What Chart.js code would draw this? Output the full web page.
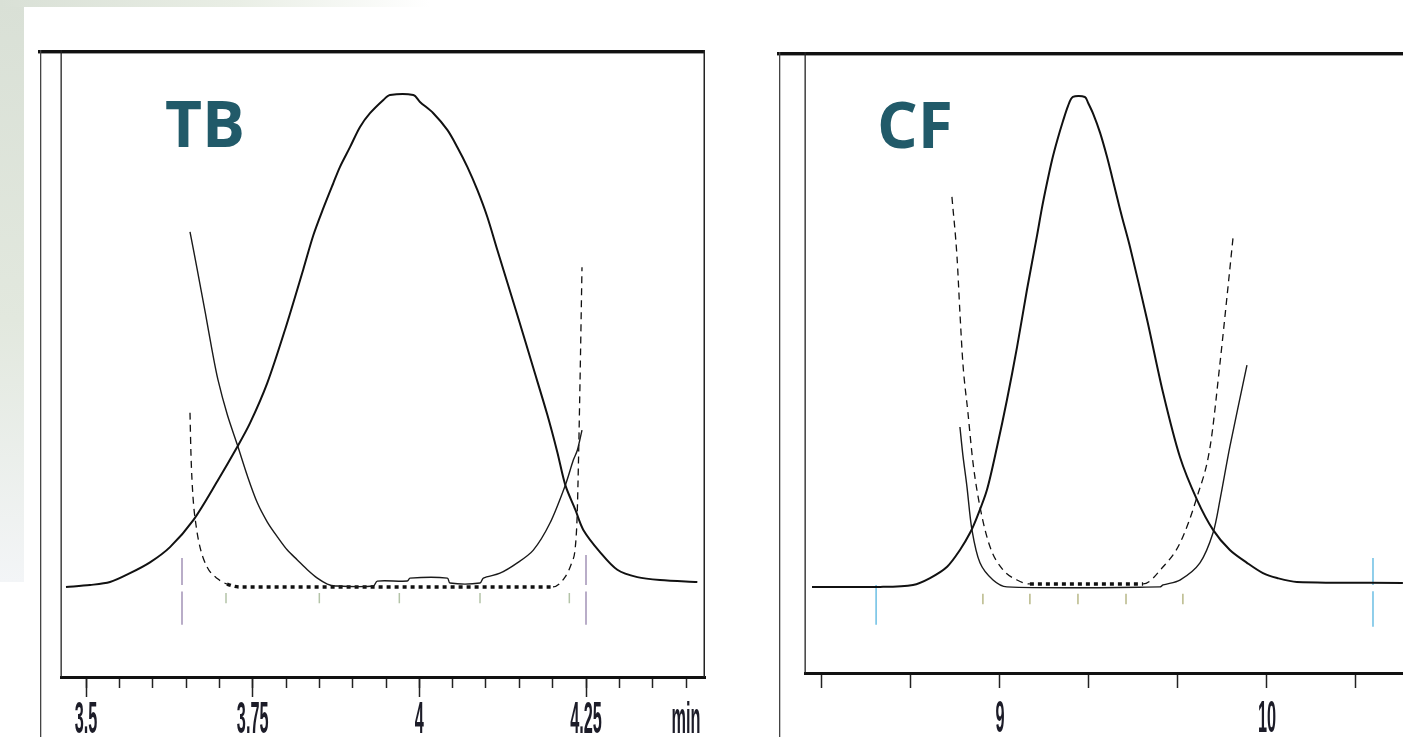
<!DOCTYPE html>
<html>
<head>
<meta charset="utf-8">
<script src="https://cdn.jsdelivr.net/npm/chart.js@4.4.1/dist/chart.umd.min.js"></script>
<style>
    body { margin: 0; width: 1403px; height: 737px; overflow: hidden; background: #fff; position: relative; }
    .fundo-esq { position: absolute; left: 0; top: 0; width: 24px; height: 582px; background: linear-gradient(to bottom, #d9e0d6, #e2e8de 55%, #f3f5f7); }
    .fundo-topo { position: absolute; left: 0; top: 0; width: 430px; height: 7px; background: linear-gradient(to right, #d9e0d6, #e9eee5 55%, #fff); }
    canvas { position: absolute; top: 0; }
    #grafTB { left: 0; }
    #grafCF { left: 740px; }
</style>
</head>
<body>
<div class="fundo-esq"></div>
<div class="fundo-topo"></div>
<canvas id="grafTB" width="740" height="737"></canvas>
<canvas id="grafCF" width="663" height="737"></canvas>
<script>
// ---------- TB (painel da esquerda) ----------
const tbMainT = [3.470, 3.506, 3.536, 3.566, 3.596, 3.626, 3.661, 3.697, 3.727, 3.746, 3.772, 3.799, 3.826, 3.841, 3.856, 3.871, 3.881, 3.896, 3.911, 3.926, 3.946, 3.956, 3.991, 4.001, 4.021, 4.042, 4.057, 4.072, 4.087, 4.102, 4.117, 4.147, 4.171, 4.192, 4.207, 4.219, 4.234, 4.246, 4.271, 4.297, 4.327, 4.361, 4.417];
const tbMainV = [0, 0.4, 1.0, 2.8, 5.0, 8.1, 13.6, 21.5, 28.5, 33.3, 41.5, 52.5, 64.6, 71.5, 77.0, 82.1, 85.4, 89.4, 93.5, 96.3, 99.0, 100, 100, 98.6, 96.3, 92.9, 89.4, 85.4, 80.7, 75.2, 68.5, 55.3, 44.5, 35.0, 27.4, 20.7, 15.7, 11.6, 7.1, 3.5, 2.0, 1.4, 1.0];

const tbLadoT = [3.656, 3.667, 3.679, 3.689, 3.698, 3.712, 3.727, 3.742, 3.757, 3.772, 3.787, 3.802, 3.817, 3.832, 3.847, 3.862, 3.874, 3.931, 3.937, 3.982, 3.986, 4.042, 4.046, 4.091, 4.096, 4.121, 4.147, 4.171, 4.196, 4.219, 4.231, 4.237, 4.244];
const tbLadoV = [72.2, 64.4, 55.7, 48.2, 42.1, 35.0, 28.9, 22.6, 17.1, 13.2, 10.2, 7.5, 5.5, 3.5, 1.8, 0.6, 0.2, 0.2, 1.2, 1.2, 1.8, 1.8, 0.8, 0.8, 1.8, 2.8, 4.9, 7.5, 13.0, 20.7, 25.8, 27.8, 31.9];

const tbTracoT = [3.656, 3.6575, 3.6605, 3.665, 3.671, 3.6815, 3.698, 3.7115, 3.731, 4.2005, 4.2185, 4.229, 4.2335, 4.2365, 4.238, 4.241, 4.244];
const tbTracoV = [35.4, 26.8, 18.3, 12.6, 8.1, 4.1, 1.6, 0.6, 0, 0, 2.0, 5.1, 7.5, 13.6, 21.1, 41.5, 65.0];

const tbMarcaT = [3.644, 4.25];
const tbMarcaTopo = [5.9, 6.5];
const tbMarcaBase = [-7.7, -7.7];
const tbTiqueT = [3.710, 3.850, 3.970, 4.091, 4.225];

const tbTiquesMaiores = [3.5, 3.75, 4, 4.25];
const tbRotulosValor = [3.5, 3.75, 4, 4.25, 4.4];
const tbRotulosTexto = ['3.5', '3.75', '4', '4.25', 'min'];

// ---------- CF (painel da direita) ----------
const cfMainT = [8.296, 8.551, 8.674, 8.738, 8.802, 8.850, 8.888, 8.914, 8.951, 8.989, 9.026, 9.064, 9.101, 9.139, 9.157, 9.176, 9.195, 9.214, 9.236, 9.255, 9.273, 9.318, 9.330, 9.348, 9.375, 9.401, 9.420, 9.438, 9.457, 9.487, 9.551, 9.611, 9.674, 9.738, 9.798, 9.861, 9.925, 9.985, 10.038, 10.112, 10.509];
const cfMainV = [0, 0, 0.4, 1.8, 4.1, 7.5, 11.0, 14.2, 19.7, 28.5, 38.0, 48.8, 60.4, 71.5, 77.0, 82.1, 86.8, 90.7, 94.7, 97.8, 99.6, 99.6, 98.4, 96.3, 92.3, 87.4, 83.3, 79.3, 75.2, 69.1, 54.3, 39.4, 26.4, 17.7, 11.6, 7.5, 4.9, 2.8, 1.8, 1.0, 0.8];

const cfLadoT = [8.850, 8.861, 8.876, 8.895, 8.925, 8.974, 9.026, 9.599, 9.611, 9.674, 9.749, 9.798, 9.824, 9.861, 9.925];
const cfLadoV = [32.5, 26.8, 20.5, 11.6, 4.9, 1.4, 0, 0, 0.4, 1.4, 4.9, 11.0, 17.7, 28.5, 45.1];

const cfTracoT = [8.820, 8.839, 8.850, 8.861, 8.880, 8.899, 8.925, 8.963, 9.011, 9.064, 9.112, 9.536, 9.611, 9.674, 9.738, 9.787, 9.824, 9.850, 9.873];
const cfTracoV = [79.3, 67.1, 55.7, 45.5, 35.4, 25.2, 16.3, 8.1, 3.5, 1.4, 0.6, 0.6, 4.1, 8.9, 18.3, 28.5, 45.5, 58.9, 71.1];

const cfMarcaT = [8.536, 10.397];
const cfMarcaTopo = [0.4, 5.9];
const cfMarcaBase = [-7.7, -8.1];
const cfTiqueT = [8.936, 9.112, 9.292, 9.472, 9.685];

const cfTiques = [8 + 1 / 3, 8 + 2 / 3, 9, 9 + 1 / 3, 9 + 2 / 3, 10, 10 + 1 / 3];
const cfRotulosValor = [9, 10];
const cfRotulosTexto = ['9', '10'];


function pontos(tempos, valores) {
    return tempos.map((t, i) => ({ x: t, y: valores[i] }));
}

// marcas verticais de integracao (com uma falha na linha de base)
function marcas(tempos, topos, bases) {
    let lista = [];
    for (let i = 0; i < tempos.length; i++) {
        let t = tempos[i];
        if (topos[i] > 1) {
            lista.push({ x: t, y: topos[i] }, { x: t, y: 0.4 }, { x: t, y: null });
            lista.push({ x: t, y: -0.9 }, { x: t, y: bases[i] }, { x: t, y: null });
        } else {
            lista.push({ x: t, y: topos[i] }, { x: t, y: bases[i] }, { x: t, y: null });
        }
    }
    return lista;
}

function tiquinhos(tempos, topo, base) {
    let lista = [];
    tempos.forEach((t) => lista.push({ x: t, y: topo }, { x: t, y: base }, { x: t, y: null }));
    return lista;
}

const pontilhado = (ctx) => ctx.p0.parsed.y < 1 && ctx.p1.parsed.y < 1;

const moldura = {
    id: 'moldura',
    afterDraw(chart, args, opts) {
        const { ctx, chartArea: a } = chart;
        const esq = a.left - opts.recuo;
        ctx.save();
        ctx.fillStyle = '#111';
        ctx.fillRect(esq - 2, a.top, a.right - esq + 2, 3);
        ctx.fillStyle = '#9a9a9a';
        ctx.fillRect(esq - 2, a.top + 3, a.right - esq + 2, 1);
        ctx.fillStyle = '#444';
        ctx.fillRect(esq, a.top, 1.3, chart.height - a.top);
        ctx.fillStyle = '#222';
        ctx.fillRect(a.left - 0.5, a.top, 1.3, a.bottom - a.top);
        if (opts.direita) {
            ctx.fillRect(a.right - 1.5, a.top, 1.5, a.bottom - a.top);
        }
        ctx.restore();
    }
};

const rotulo = {
    id: 'rotulo',
    afterDraw(chart, args, opts) {
        const { ctx, chartArea: a } = chart;
        ctx.save();
        ctx.font = 'bold 64px "Open Sans", sans-serif';
        ctx.fillStyle = '#215a69';
        ctx.textBaseline = 'alphabetic';
        ctx.fillText(opts.texto, a.left + opts.dx, a.top + opts.dy);
        ctx.restore();
    }
};

// rotulos estreitos do eixo do tempo, na posicao dada pela escala x
const rotulosEixo = {
    id: 'rotulosEixo',
    afterDraw(chart, args, opts) {
        const { ctx, chartArea: a } = chart;
        const escala = chart.scales.x;
        ctx.save();
        ctx.font = 'bold 44px "Liberation Sans", Arial, sans-serif';
        ctx.fillStyle = '#1c1c28';
        ctx.textAlign = 'center';
        ctx.textBaseline = 'alphabetic';
        for (let i = 0; i < opts.valores.length; i++) {
            ctx.save();
            ctx.translate(escala.getPixelForValue(opts.valores[i]), a.bottom + opts.dy);
            ctx.scale(0.37, 1);
            ctx.fillText(opts.textos[i], 0, 0);
            ctx.restore();
        }
        ctx.restore();
    }
};

function criarGrafico(idCanvas, c) {
    const datasets = [
        {
            data: pontos(c.mainT, c.mainV), borderColor: '#111', borderWidth: 2, tension: 0.3
        },
        {
            data: pontos(c.ladoT, c.ladoV), borderColor: '#1a1a1a', borderWidth: 1.4, tension: 0.3
        },
        {
            data: pontos(c.tracoT, c.tracoV), borderColor: '#111', borderWidth: 1.3,
            cubicInterpolationMode: 'monotone',
            segment: {
                borderDash: (ctx) => pontilhado(ctx) ? [4, 4] : [7, 5],
                borderWidth: (ctx) => pontilhado(ctx) ? 3.5 : 1.3
            }
        },
        {
            data: marcas(c.marcaT, c.marcaTopo, c.marcaBase), borderColor: c.corMarca, borderWidth: 1.5
        },
        {
            data: tiquinhos(c.tiqueT, c.tiqueTopo, c.tiqueBase), borderColor: c.corTique, borderWidth: 1.5
        }
    ];
    datasets.forEach((d) => { d.pointRadius = 0; d.fill = false; d.xAxisID = 'x'; d.yAxisID = 'y'; });

    const escalas = {
        x: {
            type: 'linear', min: c.xMin, max: c.xMax, position: { y: c.yMin },
            ticks: { display: false, stepSize: c.passo, includeBounds: false },
            grid: { drawOnChartArea: false, tickLength: c.tiqueMenor, tickWidth: 1.5, tickColor: '#222' },
            border: { display: true, width: 3, color: '#111' }
        },
        y: { type: 'linear', min: c.yMin, max: c.yMax, display: false }
    };
    if (c.tiquesX) {
        escalas.x.afterBuildTicks = (s) => { s.ticks = c.tiquesX.map((v) => ({ value: v })); };
    }
    if (c.tiquesMaiores) {
        escalas.xMaior = {
            type: 'linear', axis: 'x', min: c.xMin, max: c.xMax, position: { y: c.yMin },
            afterBuildTicks: (s) => { s.ticks = c.tiquesMaiores.map((v) => ({ value: v })); },
            ticks: { display: false },
            grid: { drawOnChartArea: false, tickLength: 20, tickWidth: 1.5, tickColor: '#222' },
            border: { display: false }
        };
    }

    return new Chart(document.getElementById(idCanvas), {
        type: 'line',
        data: { datasets: datasets },
        options: {
            responsive: false,
            animation: false,
            layout: { padding: c.padding },
            scales: escalas,
            plugins: {
                legend: { display: false },
                tooltip: { enabled: false },
                moldura: { recuo: c.recuo, direita: c.direita },
                rotulo: { texto: c.titulo, dx: c.tituloDx, dy: c.tituloDy },
                rotulosEixo: { valores: c.rotulosValor, textos: c.rotulosTexto, dy: c.rotuloDy }
            }
        },
        plugins: [moldura, rotulo, rotulosEixo]
    });
}

criarGrafico('grafTB', {
    mainT: tbMainT, mainV: tbMainV, ladoT: tbLadoT, ladoV: tbLadoV, tracoT: tbTracoT, tracoV: tbTracoV,
    marcaT: tbMarcaT, marcaTopo: tbMarcaTopo, marcaBase: tbMarcaBase, corMarca: '#a393b6',
    tiqueT: tbTiqueT, tiqueTopo: -1.2, tiqueBase: -3.3, corTique: '#b4c4a8',
    xMin: 3.4625, xMax: 4.4285, yMin: -18.3, yMax: 109.15,
    passo: 0.05, tiqueMenor: 9, tiquesMaiores: tbTiquesMaiores,
    padding: { left: 61, right: 35, top: 50, bottom: 60 },
    recuo: 21, direita: true,
    titulo: 'TB', tituloDx: 104, tituloDy: 97,
    rotulosValor: tbRotulosValor, rotulosTexto: tbRotulosTexto, rotuloDy: 56
});

criarGrafico('grafCF', {
    mainT: cfMainT, mainV: cfMainV, ladoT: cfLadoT, ladoV: cfLadoV, tracoT: cfTracoT, tracoV: cfTracoV,
    marcaT: cfMarcaT, marcaTopo: cfMarcaTopo, marcaBase: cfMarcaBase, corMarca: '#6cbfe4',
    tiqueT: cfTiqueT, tiqueTopo: -1.4, tiqueBase: -3.5, corTique: '#b8b888',
    xMin: 8.2697, xMax: 10.5094, yMin: -17.5, yMax: 108.74,
    tiquesX: cfTiques, tiqueMenor: 13,
    padding: { left: 65, right: 0, top: 52, bottom: 64 },
    recuo: 26, direita: false,
    titulo: 'CF', tituloDx: 72, tituloDy: 96,
    rotulosValor: cfRotulosValor, rotulosTexto: cfRotulosTexto, rotuloDy: 59
});
</script>
</body>
</html>
